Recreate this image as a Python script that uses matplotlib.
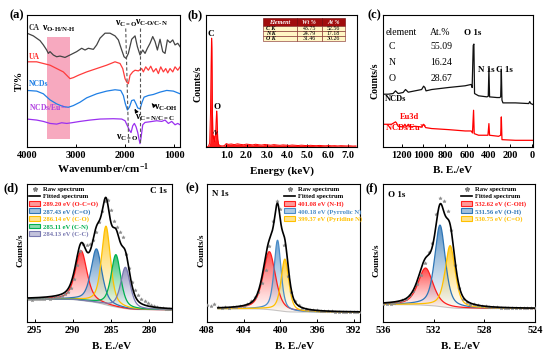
import numpy as np
import matplotlib
matplotlib.use('Agg')
import matplotlib.pyplot as plt
from matplotlib.patches import Rectangle, Polygon, Patch
from matplotlib.lines import Line2D
from matplotlib.colors import to_rgb

plt.rcParams['font.family'] = ['Liberation Serif', 'DejaVu Serif']
plt.rcParams['font.weight'] = 'bold'
plt.rcParams['mathtext.fontset'] = 'custom'
plt.rcParams['mathtext.rm'] = 'Liberation Serif:bold'
plt.rcParams['mathtext.it'] = 'Liberation Serif:italic:bold'
plt.rcParams['mathtext.bf'] = 'Liberation Serif:bold'
plt.rcParams['axes.linewidth'] = 0.8

# ---------------- (a) FTIR ----------------
ftir_ticks = [4000, 3000, 2000, 1000]
ca_wn = [4000, 3871, 3735, 3667, 3599, 3565, 3531, 3463, 3395, 3327, 3225, 3123, 2987, 2885, 2817, 2749,
         2647, 2579, 2511, 2409, 2307, 2205, 2137, 2069, 2021, 1980, 1933, 1865, 1797, 1749, 1695, 1640,
         1593, 1545, 1491, 1436, 1389, 1341, 1287, 1232, 1185, 1137, 1083, 1028, 981, 926, 879]
ca_t = [84.5, 82.5, 79, 75.8, 72, 69.5, 70.8, 68.3, 67, 67.5, 66.5, 68.3, 70.8, 73.3, 72, 73.3,
        72.5, 75.8, 80.8, 84.5, 84.5, 82.5, 79.5, 72, 67, 65.8, 69.5, 80, 82.5, 74.5, 68.3, 72,
        69.5, 73.3, 77, 82, 78.3, 72, 80, 70.8, 69.5, 79.5, 77.5, 79.5, 75.8, 77, 74.5]
ua_wn = [4000, 3803, 3667, 3531, 3395, 3259, 3123, 3055, 2953, 2783, 2579, 2375, 2205, 2103, 2048, 2001,
         1967, 1933, 1899, 1844, 1797, 1729, 1661, 1627, 1579, 1525, 1477, 1423, 1368, 1321, 1273, 1219,
         1171, 1130, 1083, 1028, 981, 926, 879]
ua_t = [63.25, 63.25, 62, 60.75, 58.25, 55.75, 50.75, 51.5, 53.25, 55.75, 58.25, 60.75, 63.25, 62, 58.25,
        50.75, 48.25, 47, 53.25, 55.75, 57, 56.5, 58.25, 55.75, 59.5, 57, 60, 55.75, 58.25, 54.5, 59.5,
        55.75, 58.25, 55, 58.25, 55.75, 59.5, 57, 59.5]
ncd_wn = [4000, 3803, 3667, 3531, 3395, 3259, 3157, 3055, 2919, 2783, 2579, 2375, 2205, 2089, 2035, 1994,
          1953, 1912, 1865, 1817, 1776, 1742, 1695, 1654, 1613, 1525, 1423, 1287, 1151, 1015, 879]
ncd_t = [42, 41.5, 39.5, 35, 32, 30, 29.5, 30.75, 33.25, 36.5, 39.5, 41.5, 42.5, 42, 38.25, 32,
         27.5, 29.5, 34.5, 35, 32, 29, 28.25, 33.25, 37, 38.25, 39, 40.75, 42, 41.5, 39.5]
eu_wn = [4000, 3803, 3667, 3531, 3395, 3293, 3191, 3089, 2919, 2715, 2511, 2239, 2069, 2001, 1953, 1912,
         1878, 1844, 1810, 1776, 1742, 1715, 1695, 1674, 1640, 1593, 1491, 1355, 1253, 1185, 1117, 1049,
         981, 926, 879]
eu_t = [20.75, 20, 19, 17.5, 17, 18, 17.5, 18, 19, 20, 20.75, 21, 20.75, 19.5, 15.75, 12.5,
        10.75, 15.75, 17.5, 15, 10.75, 5.75, 2.5, 7, 16.5, 18.25, 18.75, 19.5, 19, 20, 17.5, 19,
        16.5, 17.5, 16.5]
ftir_names = ['CA', 'UA', 'NCDs', 'NCDs/Eu$^{3+}$']

# ---------------- (b) EDS ----------------
eds_peak_e = [0.05, 0.12, 0.18, 0.22, 0.25, 0.27, 0.28, 0.29, 0.31, 0.34, 0.37, 0.39, 0.41, 0.44,
              0.47, 0.50, 0.52, 0.53, 0.55, 0.58, 0.62, 0.70, 0.80]
eds_peak_c = [0, 0.5, 3, 25, 62, 80, 82.5, 75, 35, 8, 6, 8.5, 6, 4, 9, 20, 26, 27.3, 18, 6, 2, 1, 0.8]
eds_cont_e = [0.9, 1.0, 1.1, 1.25, 1.4, 1.55, 1.7, 1.85, 2.0, 2.15, 2.3, 2.45, 2.6, 2.75, 2.9, 3.05,
              3.2, 3.35, 3.5, 3.65, 3.8, 3.95, 4.1, 4.25, 4.4, 4.55, 4.7, 4.85, 5.0, 5.15, 5.3, 5.45,
              5.6, 5.75, 5.9, 6.05, 6.2, 6.35, 6.5, 6.65, 6.8, 6.95, 7.1, 7.25, 7.4]
eds_cont_c = [1.0, 2.6, 2.0, 2.3, 1.8, 2.4, 2.0, 1.7, 2.2, 1.9, 1.6, 2.1, 1.7, 1.5, 1.9, 1.6,
              1.4, 1.8, 1.5, 1.3, 1.6, 1.4, 1.2, 1.5, 1.3, 1.1, 1.4, 1.2, 1.0, 1.3, 1.1, 1.0,
              1.2, 1.0, 0.9, 1.1, 0.9, 1.0, 0.8, 1.0, 0.9, 0.8, 0.9, 0.7, 0.8]
eds_ticks = [1.0, 2.0, 3.0, 4.0, 5.0, 6.0, 7.0]
eds_elements = ['C K', 'N K', 'O K']
eds_wt = ['43.75', '24.79', '31.46']
eds_at = ['52.56', '17.18', '30.26']
eds_header = ['Element', 'Wt %', 'At %']

# ---------------- (c) XPS survey ----------------
sur_ticks = [1200, 1000, 800, 600, 400, 200, 0]
ncd_be = [1369, 1323, 1277, 1255, 1231, 1185, 1163, 1138, 1077, 1015, 997, 985, 975, 923, 769, 615,
          560, 551, 541, 535, 529, 492, 415, 403, 397, 391, 323, 298, 289, 283, 277, 268, 154, 31, 22, 12, -15]
ncd_cnt = [39.5, 39.5, 40, 42, 40, 40.8, 43, 41, 42, 43, 45.5, 44.5, 42, 43, 44.5, 45.8,
           46.8, 44.5, 76, 77, 40, 38.3, 37.5, 38, 58.8, 37.5, 37, 37, 37.5, 58.3, 35, 33, 33, 32.5, 34, 32.5, 31.5]
eu_be = [1369, 1292, 1255, 1246, 1231, 1185, 1169, 1154, 1138, 1123, 1077, 1015, 997, 978, 923, 769,
         615, 560, 548, 538, 532, 492, 406, 397, 391, 308, 289, 283, 277, 154, -15]
eu_cnt = [17, 17, 18.8, 18, 15.5, 15, 17, 15, 17, 15, 15.5, 15, 17, 14.5, 13.8, 13,
          12, 12, 10.5, 27.5, 10, 8.8, 8.8, 17.5, 8.8, 8, 8.8, 22.5, 5.5, 5, 5]
sur_elements = ['C', 'N', 'O']
sur_at = ['55.09', '16.24', '28.67']

# ---------------- (d)(e)(f) high-resolution XPS ----------------
c1s_ticks = [295, 290, 285, 280]
c1s_raw_y = [16.9, 16.2, 17.0, 16.4, 16.8, 16.5, 17.2, 17.0, 17.4, 17.8,
             18.2, 18.9, 20.0, 21.8, 24.5, 31.5, 41.5, 51.5, 56.5, 56.0,
             56.8, 59.5, 65.0, 72.5, 80.5, 88.0, 88.5, 81.5, 73.5, 68.5,
             65.5, 61.5, 49.0, 39.0, 29.0, 23.0, 19.8, 17.0, 15.2, 13.8,
             12.6, 11.8, 11.0, 10.4, 10.0, 9.5, 9.2]
c1s_center = [288.9, 286.9, 285.65, 284.35, 283.1]
c1s_amp = [36, 39, 57, 38, 30]
c1s_fwhm = [1.8, 1.7, 1.4, 1.5, 1.5]
c1s_labels = ['289.20 eV (O-C=O)', '287.43 eV (C=O)', '286.14 eV (C-O)', '285.11 eV (C-N)', '284.13 eV (C-C)']
c1s_colors = ['#FF1E1E', '#2E75B6', '#FFC000', '#00B050', '#7878B0']

n1s_ticks = [408, 404, 400, 396, 392]
n1s_raw_y = [12.5, 11.8, 12.8, 11.2, 10.5, 10.8, 10.2, 10.6, 10.9, 11.3,
             11.8, 13.0, 15.0, 17.8, 22.0, 28.5, 38.0, 55.0, 73.0, 88.0,
             82.0, 56.0, 33.0, 21.5, 15.5, 12.2, 10.5, 9.6, 9.0, 8.6,
             8.4, 8.1, 8.0, 7.8, 7.7, 7.6, 7.5, 7.4, 7.4, 7.3,
             7.2, 7.3, 7.1]
n1s_center = [401.2, 400.3, 399.5]
n1s_amp = [42, 51, 38]
n1s_fwhm = [1.6, 0.9, 1.0]
n1s_labels = ['401.08 eV (N-H)', '400.18 eV (Pyrrolic N)', '399.37 eV (Pyridine N)']
n1s_colors = ['#FF1E1E', '#4A8CC8', '#FFC000']

o1s_ticks = [536, 532, 528, 524]
o1s_raw_y = [12.7, 13.0, 13.3, 14.0, 14.6, 15.6, 17.0, 19.5, 22.5, 27.5,
             34.0, 43.0, 50.5, 57.5, 78.0, 90.0, 87.5, 80.5, 67.0, 41.0,
             25.0, 17.0, 14.8, 13.4, 12.7, 12.1, 11.6, 11.3, 11.0, 10.8,
             10.6, 10.5, 10.4, 10.3, 10.2, 10.1, 10.0, 10.0, 9.9, 9.9,
             9.8]
o1s_center = [532.64, 531.5, 530.7]
o1s_amp = [27, 59, 45]
o1s_fwhm = [1.4, 1.0, 0.95]
o1s_labels = ['532.62 eV (C-OH)', '531.56 eV (O-H)', '530.75 eV (C=O)']
o1s_colors = ['#FF1E1E', '#2E75B6', '#FFC000']

# ===================================================
fig = plt.figure(figsize=(5.5, 3.55), dpi=100)
W, H = 550.0, 355.0


def add_ax(l, t, r, b):
    return fig.add_axes([l / W, 1 - b / H, (r - l) / W, (b - t) / H])


def style(ax, ticks, ticklabels=None):
    ax.set_xticks(ticks)
    if ticklabels is not None:
        ax.set_xticklabels(ticklabels)
    ax.set_yticks([])
    ax.tick_params(axis='x', direction='in', length=2.5, width=0.7, labelsize=7.5, pad=3)


def ylab(ax, x, y, s, fs=6.5):
    ax.text(x, y, s, transform=ax.transAxes, rotation=90, ha='center', va='center', fontsize=fs)


def xlab(ax, x, y, s, fs=8):
    ax.text(x, y, s, transform=ax.transAxes, ha='center', va='center', fontsize=fs)


def plabel(x, y, s):
    fig.text(x / W, 1 - y / H, s, fontsize=9, ha='left', va='center')


# ---------- (a) ----------
axa = add_ax(27, 15, 180, 147)
axa.fill_between([3599, 3123], 5.8, 82, color='#F7A9BF', lw=0, zorder=0)
axa.plot(ca_wn, ca_t, color='#444444', lw=0.9)
axa.plot(ua_wn, ua_t, color='#FF3B3B', lw=0.9)
axa.plot(ncd_wn, ncd_t, color='#1F7FE5', lw=0.9)
axa.plot(eu_wn, eu_t, color='#9B30F0', lw=0.9)
axa.plot([1987, 1926], [88, 2], ls=(0, (3, 2)), color='#555555', lw=0.8)
axa.plot([1695, 1695], [88, 2], ls=(0, (3, 2)), color='#555555', lw=0.8)
axa.set_xlim(4000, 880)
axa.set_ylim(0, 98)
style(axa, ftir_ticks)
lab_cols = ['#333333', '#FF3030', '#1F7FE5', '#B040E0']
lab_y = [88.5, 66.5, 47, 29.5]
for name, yy, cc in zip(ftir_names, lab_y, lab_cols):
    axa.text(3960, yy, name, color=cc, fontsize=5.5, ha='left', va='center')
axa.text(3690, 87.5, r'ν$_{\rm O\text{-}H/N\text{-}H}$', fontsize=7, ha='left', va='center')
axa.text(2210, 91.5, r'ν$_{\rm C=O}$', fontsize=7, ha='left', va='center')
axa.text(1800, 92, r'ν$_{\rm C\text{-}O/C\text{-}N}$', fontsize=7, ha='left', va='center')
axa.text(2180, 6.5, r'ν$_{\rm C=O}$', fontsize=7, ha='left', va='center')
axa.annotate('', xy=(1490, 34), xytext=(1410, 30.5),
             arrowprops=dict(arrowstyle='-|>', color='k', lw=0.8, mutation_scale=5))
axa.text(1400, 29, r'ν$_{\rm C\text{-}OH}$', fontsize=7, ha='left', va='center')
axa.annotate('', xy=(1835, 30), xytext=(1760, 25.5),
             arrowprops=dict(arrowstyle='-|>', color='k', lw=0.8, mutation_scale=5))
axa.text(1800, 21.5, r'ν$_{\rm C=N/C=C}$', fontsize=7, ha='left', va='center')
ylab(axa, -0.05, 0.5, 'T/%', fs=7.5)
xlab(axa, 0.5, -0.165, 'Wavenumber/cm$^{-1}$')
plabel(9, 15, '(a)')

# ---------- (b) ----------
axb = add_ax(206, 15, 357, 147)
be_all = eds_peak_e + eds_cont_e
cnt_all = eds_peak_c + eds_cont_c
axb.fill_between(be_all, 0, cnt_all, color='#FF1A1A', lw=0)
axb.plot(be_all, cnt_all, color='#FF0000', lw=0.7)
axb.set_xlim(0, 7.45)
axb.set_ylim(0, 100)
style(axb, eds_ticks, ['%.1f' % t for t in eds_ticks])
axb.text(0.26, 85.5, 'C', fontsize=6.5, ha='center', va='center')
axb.text(0.54, 30.5, 'O', fontsize=6.5, ha='center', va='center')
axb.text(0.40, 10.5, 'N', fontsize=4.5, ha='center', va='center', rotation=-30)
# table
col_x = [0.379, 0.600, 0.766, 0.920]
row_y = [0.975, 0.917, 0.878, 0.839, 0.800]
for j in range(3):
    axb.add_patch(Rectangle((col_x[j], row_y[1]), col_x[j + 1] - col_x[j], row_y[0] - row_y[1],
                            transform=axb.transAxes, fc='#A00D0D', ec='#6A0000', lw=0.4))
    axb.text((col_x[j] + col_x[j + 1]) / 2, (row_y[0] + row_y[1]) / 2, eds_header[j],
             transform=axb.transAxes, color='white', fontsize=4.4, style='italic', ha='center', va='center')
rows = list(zip(eds_elements, eds_wt, eds_at))
for i, row in enumerate(rows):
    for j in range(3):
        axb.add_patch(Rectangle((col_x[j], row_y[i + 2]), col_x[j + 1] - col_x[j], row_y[i + 1] - row_y[i + 2],
                                transform=axb.transAxes, fc='#FFF6C4', ec='#7A2020', lw=0.4))
        if j == 0:
            axb.text(col_x[0] + 0.02, (row_y[i + 1] + row_y[i + 2]) / 2, row[j], transform=axb.transAxes,
                     fontsize=4.2, style='italic', ha='left', va='center')
        else:
            axb.text((col_x[j] + col_x[j + 1]) / 2, (row_y[i + 1] + row_y[i + 2]) / 2, row[j],
                     transform=axb.transAxes, fontsize=4.2, fontweight='normal', ha='center', va='center')
ylab(axb, -0.055, 0.48, 'Counts/s', fs=7)
xlab(axb, 0.5, -0.18, 'Energy (keV)')
plabel(187, 15, '(b)')

# ---------- (c) ----------
axc = add_ax(383, 15, 533, 147)
axc.plot(ncd_be, ncd_cnt, color='#111111', lw=0.9)
axc.plot(eu_be, eu_cnt, color='#FF0000', lw=0.9)
axc.set_xlim(1370, -8)
axc.set_ylim(0, 98.75)
style(axc, sur_ticks)
axc.text(0.015, 0.87, 'element', transform=axc.transAxes, fontsize=7, fontweight='normal', va='center')
axc.text(0.31, 0.87, 'At.%', transform=axc.transAxes, fontsize=7, fontweight='normal', va='center')
for k, (el, v) in enumerate(zip(sur_elements, sur_at)):
    yy = 0.76 - k * 0.12
    axc.text(0.058, yy, el, transform=axc.transAxes, fontsize=7, fontweight='normal', ha='center', va='center')
    axc.text(0.39, yy, v, transform=axc.transAxes, fontsize=7, fontweight='normal', ha='center', va='center')
axc.text(0.60, 0.86, 'O 1s', transform=axc.transAxes, fontsize=6.5, ha='center', va='center')
axc.text(0.69, 0.58, 'N 1s', transform=axc.transAxes, fontsize=6.5, ha='center', va='center')
axc.text(0.81, 0.58, 'C 1s', transform=axc.transAxes, fontsize=6.5, ha='center', va='center')
axc.text(0.015, 0.36, 'NCDs', transform=axc.transAxes, fontsize=6, va='center')
axc.text(0.115, 0.225, 'Eu3d', transform=axc.transAxes, fontsize=6, color='#FF0000', va='center')
axc.text(0.015, 0.15, 'NCDs/Eu$^{3+}$', transform=axc.transAxes, fontsize=6, color='#FF0000', va='center')
ylab(axc, -0.055, 0.5, 'Counts/s', fs=7)
xlab(axc, 0.467, -0.18, 'B. E./eV')
plabel(367, 15, '(c)')


# ---------- XPS helper ----------
def pvoigt(x, c, a, w, eta=0.55):
    u = (x - c) / w
    g = np.exp(-4 * np.log(2) * u ** 2)
    l = 1.0 / (1 + 4 * u ** 2)
    return a * (eta * l + (1 - eta) * g)


def xps(ax, xlim, ticks, raw_x, raw_y, fit_x, centers, amps, fwhms, bk_hi, bk_lo, colors, labels,
        leg_x, title, title_xy, title_ha):
    comps = [pvoigt(fit_x, c, a, w) for c, a, w in zip(centers, amps, fwhms)]
    total = np.sum(comps, axis=0)
    xs = fit_x[::-1]
    ss = total[::-1]
    cum = np.concatenate([[0], np.cumsum((ss[1:] + ss[:-1]) / 2 * np.diff(xs))])
    bkg = (bk_lo + (bk_hi - bk_lo) * cum / cum[-1])[::-1]
    ax.plot(fit_x, bkg, color='#C8C8C8', lw=0.8, zorder=1)
    for comp, col in zip(comps, colors):
        top = bkg + comp
        rgb = to_rgb(col)
        grad = np.zeros((256, 1, 4))
        grad[..., 0], grad[..., 1], grad[..., 2] = rgb
        grad[:, 0, 3] = np.linspace(0.85, 0.04, 256) ** 1.3
        im = ax.imshow(grad, extent=[fit_x.min(), fit_x.max(), bkg.min(), top.max()], aspect='auto',
                       origin='upper', zorder=2, interpolation='bilinear')
        poly = Polygon(np.column_stack([np.r_[fit_x, fit_x[::-1]], np.r_[top, bkg[::-1]]]), closed=True,
                       fc='none', ec='none')
        ax.add_patch(poly)
        im.set_clip_path(poly)
        ax.plot(fit_x, top, color=col, lw=0.9, zorder=3)
    ax.plot(raw_x, raw_y, ls='none', marker='*', ms=2.6, color='#8A8A8A', mew=0.3, zorder=4)
    ax.plot(fit_x, bkg + total, color='k', lw=1.2, zorder=5)
    ax.set_xlim(*xlim)
    ax.set_ylim(0, 100)
    style(ax, ticks)
    handles = [Line2D([], [], ls='none', marker='*', ms=3.2, color='#808080'),
               Line2D([], [], color='k', lw=1.2)]
    for col in colors:
        r, g, b = to_rgb(col)
        handles.append(Patch(facecolor=(r, g, b, 0.45), edgecolor=col, lw=0.8))
    leg = ax.legend(handles, ['Raw spectrum', 'Fitted spectrum'] + labels, loc='upper left',
                    bbox_to_anchor=(leg_x, 1.0), frameon=False, fontsize=4.8, handlelength=1.6,
                    handleheight=0.75, labelspacing=0.22, handletextpad=0.5, borderaxespad=0.15,
                    borderpad=0.2)
    for t, col in zip(leg.get_texts()[2:], colors):
        t.set_color(col)
    ax.text(title_xy[0], title_xy[1], title, transform=ax.transAxes, fontsize=6.5, ha=title_ha, va='center')


axd = add_ax(27, 184, 172, 322)
xps(axd, (296, 277), c1s_ticks, np.linspace(295.8, 277.4, 47), c1s_raw_y, np.linspace(295.8, 277.0, 700),
    c1s_center, c1s_amp, c1s_fwhm, 16.6, 8.8, c1s_colors, c1s_labels, 0.0, 'C 1s', (0.965, 0.95), 'right')
ylab(axd, -0.046, 0.52, 'Counts/s')
xlab(axd, 0.58, -0.175, 'B. E./eV')
plabel(3, 188, '(d)')

axe = add_ax(207, 184, 360, 322)
xps(axe, (408, 391.3), n1s_ticks, np.linspace(408.0, 391.2, 43), n1s_raw_y, np.linspace(406.8, 391.3, 700),
    n1s_center, n1s_amp, n1s_fwhm, 9.6, 7.1, n1s_colors, n1s_labels, 0.49, 'N 1s', (0.03, 0.93), 'left')
ylab(axe, -0.037, 0.52, 'Counts/s')
xlab(axe, 0.57, -0.175, 'B. E./eV')
plabel(186, 188, '(e)')

axf = add_ax(383, 184, 535, 322)
xps(axf, (536, 524), o1s_ticks, np.linspace(536.0, 524.0, 41), o1s_raw_y, np.linspace(536.0, 524.0, 700),
    o1s_center, o1s_amp, o1s_fwhm, 12.6, 9.7, o1s_colors, o1s_labels, 0.50, 'O 1s', (0.03, 0.92), 'left')
ylab(axf, -0.044, 0.45, 'Counts/s')
xlab(axf, 0.51, -0.175, 'B. E./eV')
plabel(366, 188, '(f)')

fig.savefig('out.png', dpi=100)
